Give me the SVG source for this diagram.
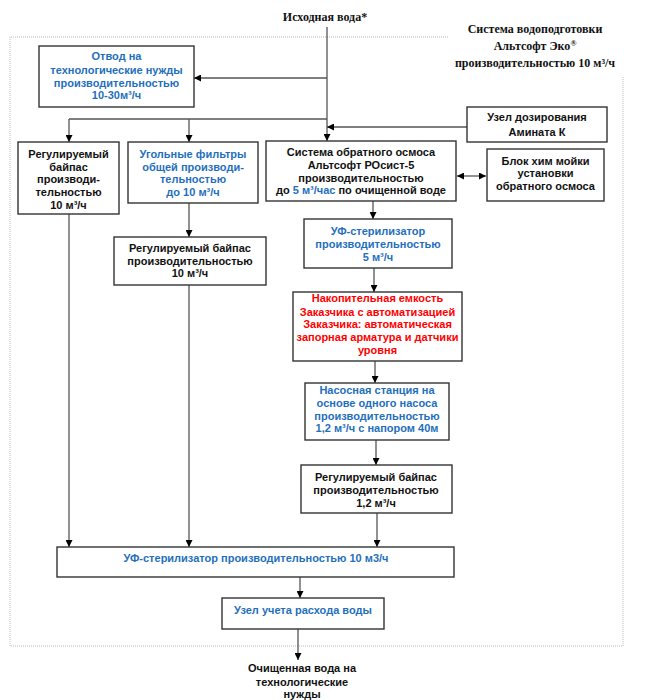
<svg xmlns="http://www.w3.org/2000/svg" width="645" height="700" viewBox="0 0 645 700">
<defs>
<marker id="ah" viewBox="0 0 10 10" refX="10" refY="5" markerWidth="7" markerHeight="7" markerUnits="userSpaceOnUse" orient="auto-start-reverse">
<path d="M0,0 L10,5 L0,10 z" fill="#000"/>
</marker>
<style>
.box{fill:#fff;stroke:#333;stroke-width:1.4}
.t{font-family:"Liberation Sans",Arial,sans-serif;font-weight:bold;font-size:11px;text-anchor:middle;fill:#111}
.b{fill:#1f6fbd}
.r{fill:#ff0000}
.s{font-family:"Liberation Serif","Times New Roman",serif;font-weight:bold;font-size:12px;text-anchor:middle;fill:#111}
.c{fill:none;stroke:#555;stroke-width:1.3}
.ar{marker-end:url(#ah)}
</style>
</defs>
<rect width="645" height="700" fill="#fff"/>
<path d="M448,37 H10 V646 H623 V77" fill="none" stroke="#bbb" stroke-width="1" stroke-dasharray="1,1"/>
<text class="s" x="325" y="21">Исходная вода*</text>
<g id="title">
<text class="s" x="535" y="33">Система водоподготовки</text>
<text class="s" x="535" y="50">Альтсофт Эко<tspan font-size="8" dy="-4">®</tspan></text>
<text class="s" x="535" y="67">производительностью 10 м³/ч</text>
</g>
<g id="connectors">
<path class="c ar" d="M327,27 V141"/>
<path class="c ar" d="M327,78 H194"/>
<path class="c" d="M327,119 H69"/>
<path class="c ar" d="M69,119 V142"/>
<path class="c ar" d="M189,119 V142"/>
<path class="c ar" d="M467,127 H327"/>
<path class="c" d="M457,176 H486" marker-start="url(#ah)" marker-end="url(#ah)"/>
<path class="c ar" d="M189,203 V237"/>
<path class="c ar" d="M373,201 V219"/>
<path class="c ar" d="M374,268 V292"/>
<path class="c ar" d="M375,361 V383"/>
<path class="c ar" d="M376,440 V465"/>
<path class="c ar" d="M69,214 V547"/>
<path class="c ar" d="M189,285 V547"/>
<path class="c ar" d="M377,513 V547"/>
<path class="c ar" d="M300,577 V598"/>
<path class="c ar" d="M298,629 V660"/>
</g>
<g id="otvod">
<rect class="box" x="39" y="46" width="155" height="61"/>
<text class="t b" x="116.5" y="60">Отвод на</text>
<text class="t b" x="116.5" y="74">технологические нужды</text>
<text class="t b" x="116.5" y="87">производительностью</text>
<text class="t b" x="116.5" y="99">10-30м³/ч</text>
</g>
<g id="bypass1">
<rect class="box" x="18" y="142" width="101" height="72"/>
<text class="t" x="68.5" y="158">Регулируемый</text>
<text class="t" x="68.5" y="171">байпас</text>
<text class="t" x="68.5" y="183">производи-</text>
<text class="t" x="68.5" y="196">тельностью</text>
<text class="t" x="68.5" y="209">10 м³/ч</text>
</g>
<g id="carbon">
<rect class="box" x="128" y="142" width="130" height="61"/>
<text class="t b" x="193" y="158">Угольные фильтры</text>
<text class="t b" x="193" y="171">общей производи-</text>
<text class="t b" x="193" y="183">тельностью</text>
<text class="t b" x="193" y="196">до 10 м³/ч</text>
</g>
<g id="bypass2">
<rect class="box" x="114" y="237" width="152" height="48"/>
<text class="t" x="190" y="252">Регулируемый байпас</text>
<text class="t" x="190" y="265">производительностью</text>
<text class="t" x="190" y="277">10 м³/ч</text>
</g>
<g id="ro">
<rect class="box" x="266" y="141" width="190" height="60"/>
<text class="t" x="361" y="156">Система обратного осмоса</text>
<text class="t" x="361" y="169">Альтсофт РОсист-5</text>
<text class="t" x="361" y="182">производительностью</text>
<text class="t" x="361" y="194">до <tspan class="b">5 м³/час</tspan> по очищенной воде</text>
</g>
<g id="dosing">
<rect class="box" x="467" y="107" width="140" height="35"/>
<text class="t" x="537" y="121">Узел дозирования</text>
<text class="t" x="537" y="136">Амината К</text>
</g>
<g id="cip">
<rect class="box" x="487" y="149" width="117" height="52"/>
<text class="t" x="545.5" y="165">Блок хим мойки</text>
<text class="t" x="545.5" y="177">установки</text>
<text class="t" x="545.5" y="190">обратного осмоса</text>
</g>
<g id="uf5">
<rect class="box" x="304" y="219" width="148" height="49"/>
<text class="t b" x="378" y="235">УФ-стерилизатор</text>
<text class="t b" x="378" y="248">производительностью</text>
<text class="t b" x="378" y="261">5 м³/ч</text>
</g>
<g id="tank">
<rect class="box" x="293" y="292" width="169" height="69"/>
<text class="t r" x="377.5" y="302">Накопительная емкость</text>
<text class="t r" x="377.5" y="316">Заказчика с автоматизацией</text>
<text class="t r" x="377.5" y="328">Заказчика: автоматическая</text>
<text class="t r" x="377.5" y="341">запорная арматура и датчики</text>
<text class="t r" x="377.5" y="354">уровня</text>
</g>
<g id="pump">
<rect class="box" x="305" y="383" width="144" height="57"/>
<text class="t b" x="377" y="394">Насосная станция на</text>
<text class="t b" x="377" y="407">основе одного насоса</text>
<text class="t b" x="377" y="420">производительностью</text>
<text class="t b" x="377" y="432">1,2 м³/ч с напором 40м</text>
</g>
<g id="bypass3">
<rect class="box" x="301" y="465" width="151" height="48"/>
<text class="t" x="376" y="481">Регулируемый байпас</text>
<text class="t" x="376" y="494">производительностью</text>
<text class="t" x="376" y="507">1,2 м³/ч</text>
</g>
<g id="uf10">
<rect class="box" x="57" y="547" width="397" height="30"/>
<text class="t b" x="256" y="562">УФ-стерилизатор производительностью 10 м3/ч</text>
</g>
<g id="meter">
<rect class="box" x="222" y="598" width="162" height="31"/>
<text class="t b" x="303" y="614">Узел учета расхода воды</text>
</g>
<g id="out">
<text class="t" x="302" y="672">Очищенная вода на</text>
<text class="t" x="302" y="686">технологические</text>
<text class="t" x="302" y="698">нужды</text>
</g>
</svg>
